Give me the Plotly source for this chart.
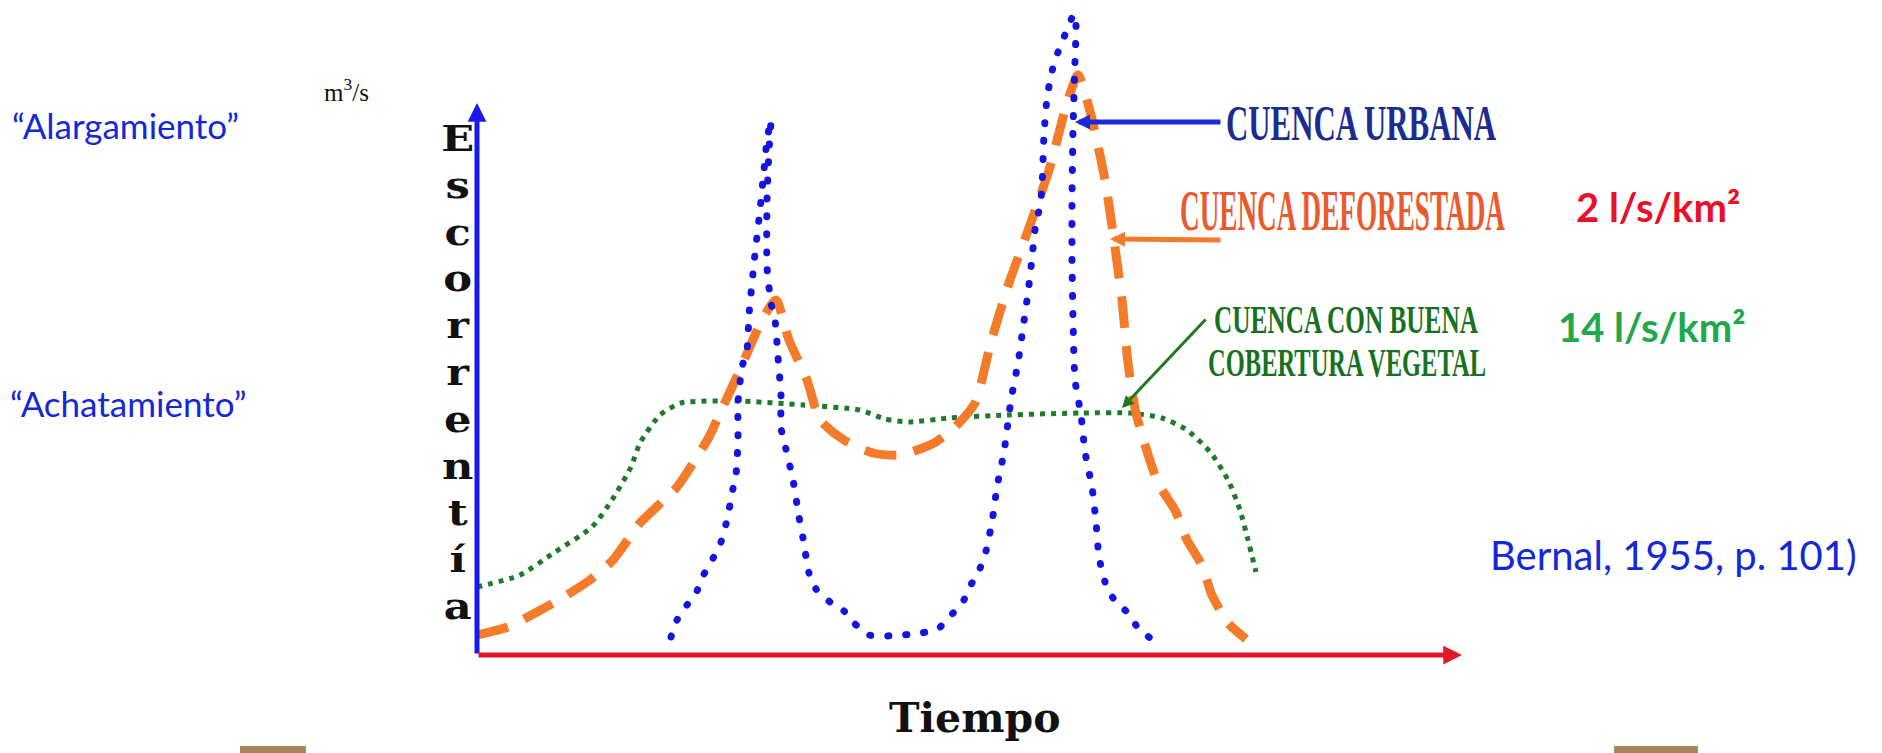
import plotly.graph_objects as go

W, H = 1882, 753

# ---- data (time units, runoff units) ----
urban_t = [19.4, 20.0, 21.0, 22.0, 22.6, 23.4, 24.3, 24.8, 25.2, 25.5, 25.9, 26.1, 26.1, 26.5, 27.0, 27.2,
           27.7, 28.3, 28.7, 29.0, 29.4, 29.2, 29.0, 29.0, 29.4, 29.8, 30.1, 30.4, 30.4, 30.8, 31.6, 32.2,
           32.6, 33.2, 33.9, 35.3, 36.7, 37.7, 39.2, 40.8, 42.6, 44.4, 46.1, 47.3, 48.5, 49.2, 50.1, 50.8,
           51.5, 52.0, 52.7, 53.4, 54.1, 54.6, 55.1, 55.5, 55.9, 56.3, 56.5, 56.7, 57.0, 57.3, 57.7, 58.3,
           59.0, 59.7, 59.9, 59.8, 59.6, 59.5, 59.5, 59.6, 59.8, 60.4, 60.8, 61.5, 61.9, 62.2, 62.9, 63.8,
           65.1, 66.1, 67.3]
urban_q = [1.8, 3.5, 5.0, 6.4, 7.9, 9.3, 11.0, 12.7, 14.5, 16.2, 18.0, 21.5, 25.2, 28.8, 30.5, 34.0,
           39.2, 44.5, 48.5, 51.5, 53.5, 50.5, 45.5, 38.8, 35.2, 33.5, 29.8, 26.0, 22.7, 21.0, 17.5, 13.8,
           11.7, 8.2, 6.6, 5.3, 4.4, 3.2, 2.0, 1.9, 2.0, 2.2, 2.6, 3.9, 5.1, 6.7, 8.2, 10.0,
           13.3, 16.8, 20.3, 25.5, 29.2, 32.7, 36.2, 39.7, 43.3, 44.8, 46.8, 52.1, 55.7, 57.4, 59.2, 60.8,
           62.5, 64.1, 63.0, 59.4, 52.5, 45.5, 39.5, 33.5, 27.5, 24.0, 20.3, 16.8, 13.3, 9.8, 7.0, 5.4,
           4.2, 2.7, 1.7]

defor_t = [0.0, 3.1, 6.0, 8.5, 11.3, 13.6, 16.3, 20.0, 23.2, 24.3, 26.3, 28.5, 29.9, 31.2, 33.0, 34.3,
           36.7, 39.6, 42.4, 45.7, 47.7, 49.8, 51.4, 53.2, 55.3, 57.3, 59.0, 60.1, 61.4, 62.8, 63.6, 64.5,
           65.1, 65.9, 68.1, 69.8, 71.0, 72.6, 73.4, 75.1, 76.9]
defor_q = [2.0, 2.8, 4.3, 5.7, 7.5, 9.5, 13.2, 16.8, 21.8, 24.2, 28.5, 33.5, 35.5, 31.5, 27.5, 23.5,
           21.5, 20.2, 20.0, 21.2, 22.7, 25.2, 31.3, 37.2, 43.0, 48.8, 55.2, 58.0, 54.0, 47.5, 42.2, 35.5,
           29.2, 24.2, 17.2, 14.5, 11.5, 8.8, 6.2, 3.2, 1.6]

veg_t = [0.0, 4.3, 7.8, 11.5, 13.5, 15.4, 16.3, 18.3, 20.4, 26.1, 32.6, 38.3, 40.8, 43.2, 47.3, 53.0,
         60.4, 65.3, 68.5, 71.0, 73.4, 75.1, 76.3, 77.1, 77.9]
veg_q = [6.8, 8.0, 10.3, 12.8, 15.5, 18.8, 21.2, 24.0, 25.2, 25.4, 25.0, 24.5, 23.6, 23.3, 23.7, 24.0,
         24.2, 24.2, 23.7, 22.5, 20.2, 17.5, 14.5, 11.5, 8.3]

y_axis_top = 55.2
x_axis_end = 98.5

y_title_letters = list("Escorrentía")


def px(x):
    return x / W


def py(y):
    return 1 - y / H


fig = go.Figure()
fig.add_trace(go.Scatter(x=veg_t, y=veg_q, mode="lines",
                         line=dict(color="#1f7a2a", width=5, dash="5px,6px", shape="spline", smoothing=0.6),
                         hoverinfo="skip"))
fig.add_trace(go.Scatter(x=defor_t, y=defor_q, mode="lines",
                         line=dict(color="#f47b2a", width=9, dash="32px,18px", shape="spline", smoothing=0.6),
                         hoverinfo="skip"))
fig.add_trace(go.Scatter(x=urban_t, y=urban_q, mode="lines",
                         line=dict(color="#1414e0", width=7, dash="1px,17px", shape="spline", smoothing=0.5),
                         hoverinfo="skip"))

ann = []
# axes arrows
ann.append(dict(x=0, y=y_axis_top, ax=0, ay=0, xref="x", yref="y", axref="x", ayref="y", text="",
                showarrow=True, arrowhead=2, arrowsize=0.75, arrowwidth=5, arrowcolor="#1a1ae8", standoff=0))
ann.append(dict(x=x_axis_end, y=0, ax=0, ay=0, xref="x", yref="y", axref="x", ayref="y", text="",
                showarrow=True, arrowhead=2, arrowsize=0.75, arrowwidth=5, arrowcolor="#e3172b", standoff=0))
# label arrows
ann.append(dict(x=59.8, y=53.3, ax=74.5, ay=53.3, xref="x", yref="y", axref="x", ayref="y", text="",
                showarrow=True, arrowhead=2, arrowsize=0.6, arrowwidth=5, arrowcolor="#1a2ad6", standoff=0))
ann.append(dict(x=63.3, y=41.6, ax=74.5, ay=41.5, xref="x", yref="y", axref="x", ayref="y", text="",
                showarrow=True, arrowhead=2, arrowsize=0.6, arrowwidth=5, arrowcolor="#f47b2a", standoff=0))
ann.append(dict(x=64.5, y=24.7, ax=73.0, ay=33.7, xref="x", yref="y", axref="x", ayref="y", text="",
                showarrow=True, arrowhead=2, arrowsize=0.8, arrowwidth=3, arrowcolor="#1f7a1f", standoff=0))


def txt(text, x, y, size, color, family, xanchor="left", bold=False):
    return dict(text=text, x=px(x), y=py(y), xref="paper", yref="paper", xanchor=xanchor, yanchor="middle",
                showarrow=False, font=dict(size=size, color=color, family=family,
                                           weight="bold" if bold else "normal"))


calibri = "Lato, 'Open Sans', sans-serif"
times = "'Liberation Serif', 'Times New Roman', serif"
ann.append(txt("m<sup>3</sup>/s", 346, 90, 25, "#111111", times, xanchor="center"))
ann.append(txt("“Alargamiento”", 10, 125, 35, "#1428d8", calibri))
ann.append(txt("“Achatamiento”", 8, 403, 35, "#1428d8", calibri))
ann.append(txt("<br>".join(y_title_letters), 457, 372, 36, "#111111", "'DejaVu Serif', serif",
               xanchor="center", bold=True))
ann.append(txt("Tiempo", 975, 718, 41, "#111111", "'DejaVu Serif', serif", xanchor="center", bold=True))
ann.append(txt("CUENCA URBANA", 1224, 123, 50, "#1b2b8f", times, bold=True))
ann.append(txt("CUENCA DEFORESTADA", 1178, 211, 58, "#ea5a2c", times, bold=True))
ann.append(txt("CUENCA CON BUENA", 1212, 319, 40, "#17711f", times, bold=True))
ann.append(txt("COBERTURA VEGETAL", 1206, 362, 40, "#17711f", times, bold=True))
ann.append(txt("2 l/s/km²", 1574, 207, 40, "#e8102a", calibri, bold=True))
ann.append(txt("14 l/s/km²", 1556, 327, 40, "#22a84a", calibri, bold=True))
ann.append(txt("Bernal, 1955, p. 101)", 1488, 555, 40, "#1428d8", calibri))

shapes = [
    dict(type="rect", xref="paper", yref="paper", x0=px(240), x1=px(306), y0=0, y1=py(746),
         fillcolor="#a8845c", line=dict(width=0), layer="above"),
    dict(type="rect", xref="paper", yref="paper", x0=px(1614), x1=px(1698), y0=0, y1=py(746),
         fillcolor="#a8845c", line=dict(width=0), layer="above"),
]

fig.update_layout(
    width=W, height=H, autosize=False,
    margin=dict(l=0, r=0, t=0, b=0, pad=0),
    paper_bgcolor="white", plot_bgcolor="white",
    showlegend=False,
    xaxis=dict(range=[-47.7, 140.5], visible=False, fixedrange=True),
    yaxis=dict(range=[-9.8, 65.5], visible=False, fixedrange=True),
    annotations=ann, shapes=shapes,
)

post = """
document.body.style.margin='0';
document.body.style.overflow='hidden';
var targets = {'CUENCA URBANA':270, 'CUENCA DEFORESTADA':325, 'CUENCA CON BUENA':264, 'COBERTURA VEGETAL':278};
document.querySelectorAll('text.annotation-text').forEach(function(el){
  var t = el.textContent;
  if (targets[t]) {
    var w = el.getBBox().width;
    if (w > 0) {
      el.style.transformBox = 'fill-box';
      el.style.transformOrigin = '0% 50%';
      el.style.transform = 'scaleX(' + (targets[t] / w) + ')';
    }
  } else if (t === 'Escorrentía') {
    el.style.transformBox = 'fill-box';
    el.style.transformOrigin = '50% 50%';
    el.style.transform = 'scaleX(1.2)';
  }
});
document.querySelectorAll('path.js-line').forEach(function(p){
  var d = p.style.strokeDasharray || '';
  if (d.indexOf('17px') >= 0) { p.style.strokeLinecap = 'round'; }
});
"""

fig.write_html("out.html", config=dict(displayModeBar=False, staticPlot=True), post_script=post)
